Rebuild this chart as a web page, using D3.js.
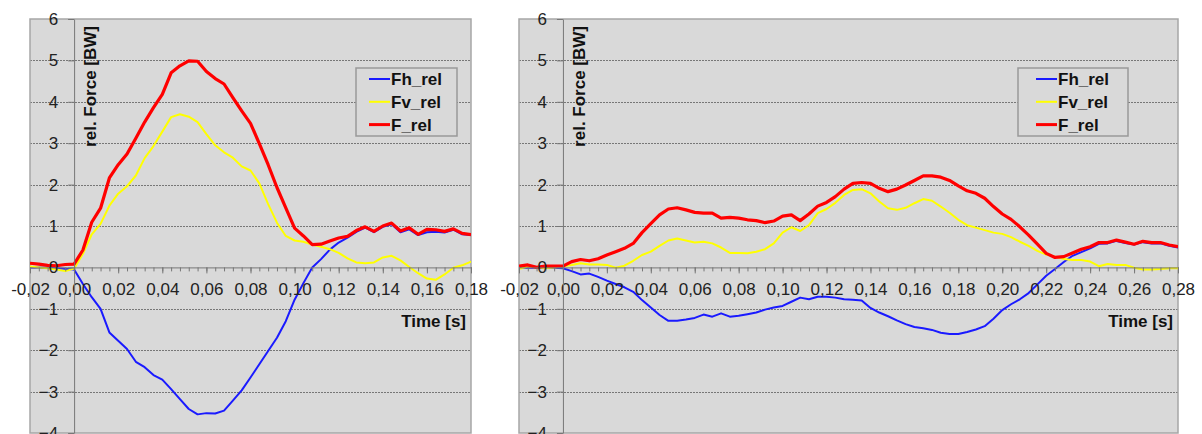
<!DOCTYPE html>
<html>
<head>
<meta charset="utf-8">
<script src="https://cdn.jsdelivr.net/npm/d3@7"></script>
<style>
  body { margin: 0; background: #fff; }
  svg { display: block; font-family: "Liberation Sans", Arial, sans-serif; }
</style>
</head>
<body>
<div id="chart"></div>
<script>
// Data
const seriesNames = ['Fh_rel', 'Fv_rel', 'F_rel']
const seriesColors = ['#1a1aff', '#ffff00', '#ff0000']
const yTicks = [-4, -3, -2, -1, 0, 1, 2, 3, 4, 5, 6]
const xTicksLeft = [-0.02, 0, 0.02, 0.04, 0.06, 0.08, 0.1, 0.12, 0.14, 0.16, 0.18]
const xTicksRight = [-0.02, 0, 0.02, 0.04, 0.06, 0.08, 0.1, 0.12, 0.14, 0.16, 0.18, 0.2, 0.22, 0.24, 0.26, 0.28]

const timeLeft = [
  -0.020, -0.016, -0.012, -0.008, -0.004, 0.000, 0.004, 0.008, 0.012, 0.016,
  0.020, 0.024, 0.028, 0.032, 0.036, 0.040, 0.044, 0.048, 0.052, 0.056,
  0.060, 0.064, 0.068, 0.072, 0.076, 0.080, 0.084, 0.088, 0.092, 0.096,
  0.100, 0.104, 0.108, 0.112, 0.116, 0.120, 0.124, 0.128, 0.132, 0.136,
  0.140, 0.144, 0.148, 0.152, 0.156, 0.160, 0.164, 0.168, 0.172, 0.176,
  0.180
]
const fhLeft = [
  0.00, 0.00, -0.01, -0.02, -0.03, -0.05, -0.40, -0.72, -1.00, -1.57,
  -1.77, -1.97, -2.28, -2.41, -2.60, -2.71, -2.94, -3.18, -3.42, -3.55,
  -3.52, -3.53, -3.46, -3.22, -2.97, -2.66, -2.34, -2.02, -1.70, -1.30,
  -0.78, -0.38, 0.00, 0.20, 0.43, 0.60, 0.72, 0.86, 0.96, 0.85,
  0.98, 1.04, 0.85, 0.92, 0.78, 0.85, 0.86, 0.84, 0.91, 0.80,
  0.78
]
const fvLeft = [
  0.02, 0.00, -0.02, -0.05, -0.09, -0.03, 0.33, 0.80, 1.05, 1.49,
  1.78, 1.96, 2.22, 2.64, 2.93, 3.28, 3.63, 3.70, 3.64, 3.51,
  3.22, 2.95, 2.78, 2.65, 2.44, 2.34, 2.03, 1.53, 1.08, 0.76,
  0.65, 0.62, 0.55, 0.50, 0.44, 0.35, 0.22, 0.12, 0.10, 0.12,
  0.24, 0.28, 0.17, 0.01, -0.14, -0.27, -0.30, -0.17, -0.01, 0.05,
  0.14
]
const fLeft = [
  0.10, 0.08, 0.05, 0.04, 0.07, 0.08, 0.42, 1.09, 1.43, 2.16,
  2.48, 2.74, 3.12, 3.51, 3.86, 4.18, 4.70, 4.87, 4.99, 4.98,
  4.73, 4.56, 4.43, 4.10, 3.78, 3.48, 2.99, 2.48, 1.93, 1.44,
  0.95, 0.76, 0.55, 0.56, 0.64, 0.71, 0.75, 0.89, 0.98, 0.87,
  1.00, 1.07, 0.88, 0.96, 0.80, 0.92, 0.91, 0.87, 0.93, 0.82,
  0.79
]

const timeRight = [
  -0.020, -0.016, -0.012, -0.008, -0.004, 0.000, 0.004, 0.008, 0.012, 0.016,
  0.020, 0.024, 0.028, 0.032, 0.036, 0.040, 0.044, 0.048, 0.052, 0.056,
  0.060, 0.064, 0.068, 0.072, 0.076, 0.080, 0.084, 0.088, 0.092, 0.096,
  0.100, 0.104, 0.108, 0.112, 0.116, 0.120, 0.124, 0.128, 0.132, 0.136,
  0.140, 0.144, 0.148, 0.152, 0.156, 0.160, 0.164, 0.168, 0.172, 0.176,
  0.180, 0.184, 0.188, 0.192, 0.196, 0.200, 0.204, 0.208, 0.212, 0.216,
  0.220, 0.224, 0.228, 0.232, 0.236, 0.240, 0.244, 0.248, 0.252, 0.256,
  0.260, 0.264, 0.268, 0.272, 0.276, 0.280
]
const fhRight = [
  -0.01, -0.01, 0.00, -0.01, -0.01, -0.02, -0.09, -0.17, -0.15, -0.23,
  -0.32, -0.40, -0.48, -0.59, -0.79, -0.97, -1.15, -1.29, -1.29, -1.26,
  -1.22, -1.14, -1.19, -1.11, -1.19, -1.17, -1.13, -1.09, -1.02, -0.97,
  -0.93, -0.83, -0.73, -0.77, -0.71, -0.71, -0.73, -0.77, -0.78, -0.80,
  -0.98, -1.09, -1.18, -1.28, -1.37, -1.44, -1.47, -1.51, -1.58, -1.61,
  -1.61, -1.56, -1.50, -1.42, -1.24, -1.03, -0.89, -0.77, -0.62, -0.41,
  -0.20, -0.04, 0.13, 0.28, 0.37, 0.46, 0.57, 0.58, 0.64, 0.59,
  0.55, 0.61, 0.58, 0.58, 0.52, 0.48
]
const fvRight = [
  -0.04, 0.02, 0.00, -0.02, 0.00, 0.03, 0.06, 0.10, 0.07, 0.07,
  0.06, -0.01, 0.04, 0.16, 0.30, 0.38, 0.52, 0.65, 0.70, 0.65,
  0.60, 0.62, 0.58, 0.48, 0.35, 0.35, 0.34, 0.38, 0.44, 0.58,
  0.84, 0.97, 0.88, 1.02, 1.31, 1.41, 1.56, 1.75, 1.87, 1.89,
  1.79, 1.59, 1.43, 1.39, 1.44, 1.55, 1.65, 1.61, 1.47, 1.32,
  1.15, 1.02, 0.96, 0.90, 0.84, 0.81, 0.73, 0.62, 0.52, 0.40,
  0.31, 0.26, 0.20, 0.18, 0.18, 0.14, 0.03, 0.08, 0.06, 0.06,
  -0.01, -0.05, -0.05, -0.04, -0.02, -0.02
]
const fRight = [
  0.03, 0.06, 0.00, 0.03, 0.03, 0.03, 0.14, 0.19, 0.16, 0.21,
  0.30, 0.38, 0.46, 0.58, 0.84, 1.06, 1.27, 1.41, 1.44, 1.39,
  1.33, 1.31, 1.31, 1.19, 1.21, 1.19, 1.15, 1.13, 1.08, 1.12,
  1.24, 1.27, 1.13, 1.29, 1.48, 1.57, 1.71, 1.89, 2.03, 2.05,
  2.03, 1.91, 1.83, 1.89, 1.99, 2.10, 2.21, 2.21, 2.18, 2.10,
  1.97, 1.85, 1.79, 1.67, 1.47, 1.29, 1.16, 0.98, 0.78, 0.56,
  0.34, 0.24, 0.26, 0.35, 0.44, 0.50, 0.60, 0.60, 0.66, 0.61,
  0.56, 0.63, 0.60, 0.60, 0.54, 0.50
]

const locale = d3.formatLocale({ decimal: ',', thousands: '.', grouping: [3], currency: ['', ''], minus: '-' })
const fmt = locale.format('.2f')

const svg = d3.select('#chart')
  .append('svg')
  .attr('width', 1202)
  .attr('height', 434)

function drawChart(opts, idx) {
  const { left, right, top, bottom, xDomain, xTicks, time, series, legend } = opts

  const xScale = d3.scaleLinear().domain(xDomain).range([left, right])
  const yScale = d3.scaleLinear().domain([-4, 6]).range([bottom, top])

  const g = svg.append('g')

  g.append('clipPath')
    .attr('id', 'clip' + idx)
    .append('rect')
    .attr('x', left).attr('y', top)
    .attr('width', right - left).attr('height', bottom - top)

  // plot area
  g.append('rect')
    .attr('x', left).attr('y', top)
    .attr('width', right - left).attr('height', bottom - top)
    .attr('fill', '#d9d9d9')

  // gridlines
  g.append('g')
    .selectAll('line')
    .data(yTicks.filter(d => d !== 0 && d !== 6 && d !== -4))
    .join('line')
    .attr('x1', left).attr('x2', right)
    .attr('y1', d => Math.round(yScale(d)) + 0.5).attr('y2', d => Math.round(yScale(d)) + 0.5)
    .attr('stroke', '#777')
    .attr('stroke-width', 1)
    .attr('stroke-dasharray', '2,1')

  g.append('rect')
    .attr('x', left).attr('y', top)
    .attr('width', right - left).attr('height', bottom - top)
    .attr('fill', 'none')
    .attr('stroke', '#a6a6a6')
    .attr('stroke-width', 1.5)

  // lines
  const lineGen = d3.line()
    .x((d, i) => xScale(time[i]))
    .y(d => yScale(d))

  g.append('g')
    .attr('clip-path', `url(#clip${idx})`)
    .selectAll('path')
    .data(series)
    .join('path')
    .attr('d', d => lineGen(d))
    .attr('fill', 'none')
    .attr('stroke', (d, i) => seriesColors[i])
    .attr('stroke-width', (d, i) => i === 2 ? 3.2 : 2)
    .attr('stroke-linejoin', 'round')

  // x axis (minor ticks)
  const minorTicks = d3.range(xDomain[0], xDomain[1] + 0.0001, 0.004)
  const xMinor = g.append('g')
    .attr('transform', `translate(0, ${yScale(0)})`)
    .call(d3.axisBottom(xScale).tickValues(minorTicks).tickSize(4).tickFormat('').tickSizeOuter(0))
  xMinor.select('.domain').remove()
  xMinor.selectAll('line').attr('stroke', '#777')

  const xAxis = g.append('g')
    .attr('transform', `translate(0, ${yScale(0)})`)
    .call(d3.axisBottom(xScale).tickValues(xTicks).tickSize(6).tickPadding(10).tickFormat(fmt).tickSizeOuter(0))
  xAxis.select('.domain').attr('stroke', '#777')
  xAxis.selectAll('line').attr('stroke', '#777')
  xAxis.selectAll('text')
    .attr('font-size', 17)
    .attr('fill', '#222')
    .attr('font-family', '"Liberation Sans", Arial, sans-serif')

  // y axis
  const yAxis = g.append('g')
    .attr('transform', `translate(${xScale(0)}, 0)`)
    .call(d3.axisLeft(yScale).tickValues(yTicks).tickSize(6).tickPadding(10).tickSizeOuter(0))
  yAxis.select('.domain').attr('stroke', '#777')
  yAxis.selectAll('line').attr('stroke', '#777')
  yAxis.selectAll('text')
    .attr('font-size', 17)
    .attr('fill', '#222')
    .attr('font-family', '"Liberation Sans", Arial, sans-serif')

  // axis titles
  g.append('text')
    .attr('transform', `translate(${xScale(0) + 22}, 26) rotate(-90)`)
    .attr('text-anchor', 'end')
    .attr('font-size', 17)
    .attr('font-weight', 'bold')
    .attr('fill', '#111')
    .text('rel. Force [BW]')

  g.append('text')
    .attr('x', right - 5)
    .attr('y', 327)
    .attr('text-anchor', 'end')
    .attr('font-size', 17)
    .attr('font-weight', 'bold')
    .attr('fill', '#111')
    .text('Time [s]')

  // legend
  const lg = g.append('g')
  lg.append('rect')
    .attr('x', legend.x).attr('y', 68)
    .attr('width', legend.w).attr('height', 68)
    .attr('fill', '#d9d9d9')
    .attr('stroke', '#999')
    .attr('stroke-width', 1.5)

  const rows = lg.selectAll('g.row')
    .data(seriesNames)
    .join('g')
    .attr('class', 'row')
    .attr('transform', (d, i) => `translate(${legend.lx}, ${79 + i * 22.8})`)

  rows.append('line')
    .attr('x1', 0).attr('x2', 21)
    .attr('stroke', (d, i) => seriesColors[i])
    .attr('stroke-width', (d, i) => i === 2 ? 3 : 2)

  rows.append('text')
    .attr('x', 22)
    .attr('dy', '0.36em')
    .attr('font-size', 17)
    .attr('font-weight', 'bold')
    .attr('fill', '#111')
    .text(d => d)
}

drawChart({
  left: 30, right: 471, top: 19, bottom: 433,
  xDomain: [-0.02, 0.18], xTicks: xTicksLeft,
  time: timeLeft, series: [fhLeft, fvLeft, fLeft],
  legend: { x: 356, w: 101, lx: 369 }
}, 0)

drawChart({
  left: 519, right: 1178, top: 19, bottom: 433,
  xDomain: [-0.02, 0.28], xTicks: xTicksRight,
  time: timeRight, series: [fhRight, fvRight, fRight],
  legend: { x: 1018, w: 110, lx: 1036 }
}, 1)
</script>
</body>
</html>
